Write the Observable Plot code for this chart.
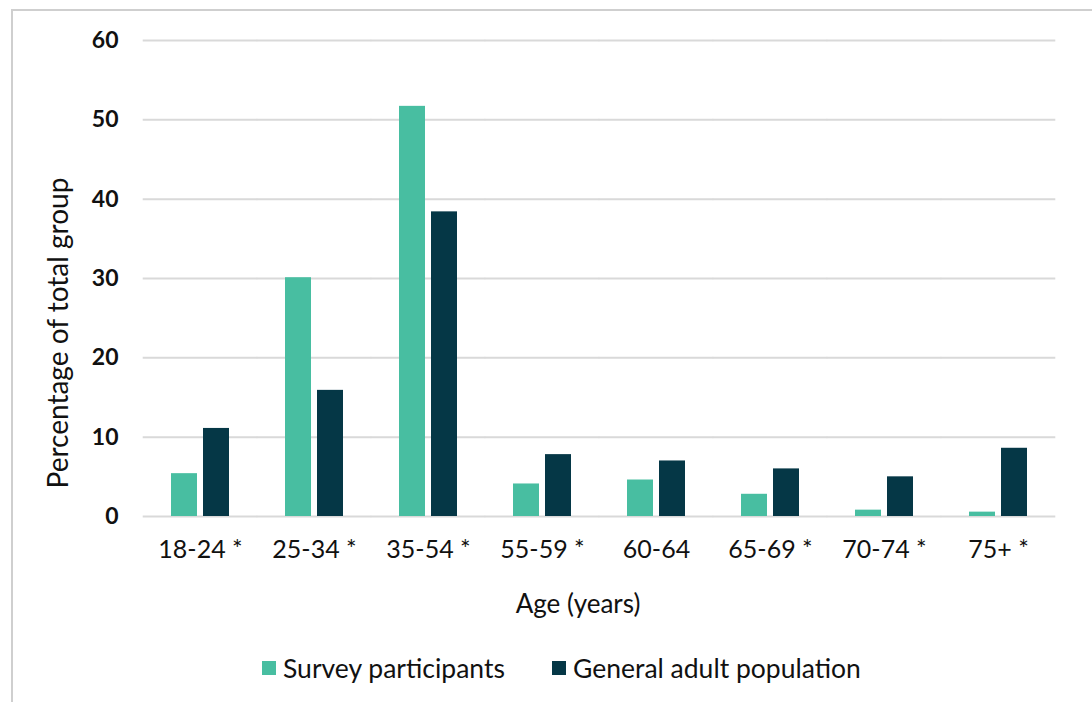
<!DOCTYPE html>
<html>
<head>
<meta charset="utf-8">
<script src="https://cdn.jsdelivr.net/npm/d3@7"></script>
<script src="https://cdn.jsdelivr.net/npm/@observablehq/plot@0.6"></script>
<style>
  html, body { margin: 0; padding: 0; background: #fff; }
  body { width: 1092px; height: 702px; position: relative; overflow: hidden; font-family: Lato, "Open Sans", sans-serif; color: #111; }
  #frame { position: absolute; left: 11px; top: 9px; right: -5px; bottom: -5px; border-left: 2px solid #cfcfcf; border-top: 2px solid #cfcfcf; }
  #chart { position: absolute; left: 0; top: 0; }
  #ylabel { position: absolute; left: 57px; top: 333px; transform: translate(-50%, -50%) rotate(-90deg); white-space: nowrap; font-size: 28px; }
  #xlabel { position: absolute; left: 578px; top: 603px; transform: translate(-50%, -50%); white-space: nowrap; font-size: 26px; }
  #legend { position: absolute; top: 668px; left: 0; width: 1092px; font-size: 26.5px; }
  .item { position: absolute; top: 0; display: flex; align-items: center; white-space: nowrap; transform: translateY(-50%); }
  .sw { width: 14px; height: 14px; margin-right: 7px; }
</style>
</head>
<body>
<div id="frame"></div>
<div id="chart"></div>
<div id="ylabel">Percentage of total group</div>
<div id="xlabel">Age (years)</div>
<div id="legend"></div>
<script>
const ageGroups = ["18-24 *", "25-34 *", "35-54 *", "55-59 *", "60-64", "65-69 *", "70-74 *", "75+ *"];
const seriesNames = ["Survey participants", "General adult population"];
const surveyValues = [5.4, 30.1, 51.7, 4.1, 4.6, 2.8, 0.8, 0.55];
const generalValues = [11.1, 15.9, 38.4, 7.8, 7.0, 6.0, 5.0, 8.6];
const yTicks = [0, 10, 20, 30, 40, 50, 60];
const colors = ["#48bea1", "#053746"];

const rows = [];
ageGroups.forEach((age, i) => {
  rows.push({age, series: seriesNames[0], value: surveyValues[i]});
  rows.push({age, series: seriesNames[1], value: generalValues[i]});
});

const chart = Plot.plot({
  width: 1092,
  height: 620,
  marginTop: 40,
  marginBottom: 104,
  marginLeft: 142,
  marginRight: 36,
  style: {fontFamily: "Lato, 'Open Sans', sans-serif", background: "transparent"},
  fx: {domain: ageGroups, paddingInner: 0.475, paddingOuter: 0.2375, label: null},
  x: {domain: seriesNames, paddingInner: 0.18, paddingOuter: 0, axis: null},
  y: {domain: [0, 60], ticks: yTicks, label: null},
  color: {domain: seriesNames, range: colors},
  marks: [
    Plot.ruleY(yTicks, {stroke: "#d9d9d9", strokeWidth: 2, insetLeft: -27.3, insetRight: -27.3}),
    Plot.barY(rows, {fx: "age", x: "series", y: "value", fill: "series"}),
    Plot.axisY({ticks: yTicks, tickSize: 0, tickPadding: 52, fontSize: 23, fontWeight: "bold", fill: "#111", label: null}),
    Plot.axisFx({anchor: "bottom", tickSize: 0, tickPadding: 24, fontSize: 25, fill: "#111", label: null})
  ]
});
document.getElementById("chart").appendChild(chart);

const legend = document.getElementById("legend");
const legendPos = [262, 552];
seriesNames.forEach((name, i) => {
  const item = document.createElement("div");
  item.className = "item";
  item.style.left = legendPos[i] + "px";
  const sw = document.createElement("span");
  sw.className = "sw";
  sw.style.background = colors[i];
  const t = document.createElement("span");
  t.textContent = name;
  item.appendChild(sw);
  item.appendChild(t);
  legend.appendChild(item);
});
</script>
</body>
</html>
